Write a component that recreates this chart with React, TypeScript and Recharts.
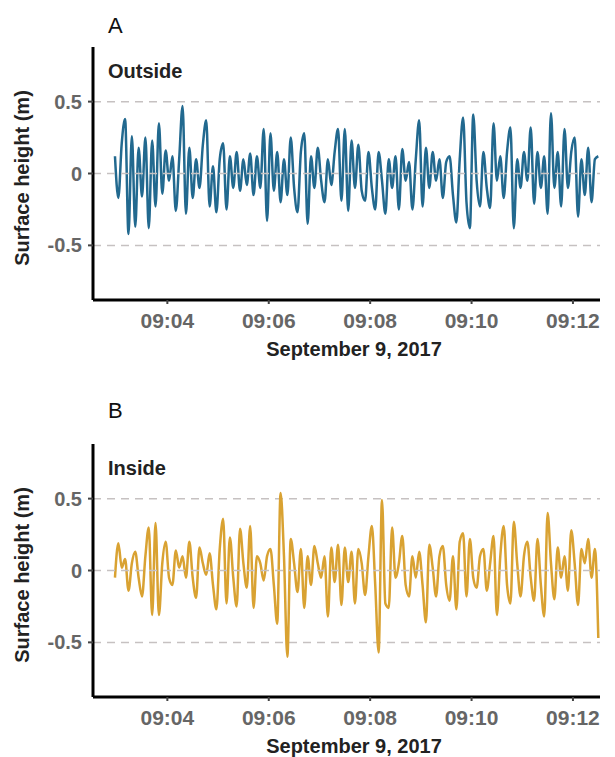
import React from 'react'
import { Line, LineChart, ReferenceLine, XAxis, YAxis } from 'recharts'

// Two stacked surface-height panels (outside / inside), 4 s samples
// starting 09:02:58, time in seconds after 09:00:00.

const startSec = 178
const stepSec = 4
const xTicks = [240, 360, 480, 600, 720]
const yTicks = [-0.5, 0, 0.5]

const outsideHeight = [
  0.12, -0.17, 0.21, 0.38, -0.42, 0.26, -0.37, 0.18, -0.16, 0.25,
  -0.38, 0.23, -0.23, 0.35, -0.14, 0.16, -0.05, 0.12, -0.26, 0.1,
  0.47, -0.28, 0.18, -0.17, 0.1, -0.1, 0.2, 0.37, -0.23, 0.05,
  -0.27, 0.1, 0.21, -0.25, 0.12, -0.1, 0.15, -0.12, 0.1, -0.08,
  0.14, -0.15, 0.12, -0.1, 0.31, -0.33, 0.28, -0.12, 0.15, -0.2,
  0.1, -0.15, 0.25, -0.1, -0.27, 0.15, 0.28, -0.35, 0.12, -0.1,
  0.18, -0.05, -0.2, 0.1, -0.08, 0.15, 0.31, -0.19, 0.31, -0.26,
  0.23, -0.1, 0.2, -0.12, -0.19, 0.15, -0.1, -0.25, 0.15, -0.05,
  -0.28, 0.1, -0.1, 0.12, -0.25, 0.17, -0.05, 0.08, -0.25, 0.1,
  0.37, -0.23, 0.18, -0.1, 0.15, -0.05, 0.1, -0.17, 0.08, 0.12,
  -0.15, -0.34, 0.1, 0.39, -0.2, -0.38, 0.41, -0.05, -0.23, 0.15,
  -0.1, -0.24, 0.35, -0.05, 0.12, -0.17, 0.15, 0.32, -0.38, 0.1,
  -0.1, 0.15, -0.05, 0.32, -0.21, 0.15, -0.1, 0.12, -0.28, 0.42,
  -0.1, 0.15, -0.23, 0.31, -0.1, 0.15, 0.25, -0.3, 0.1, -0.15,
  0.18, -0.2, 0.1, 0.12,
]

const insideHeight = [
  -0.05, 0.19, 0.02, 0.08, -0.14, 0.05, 0.13, -0.05, -0.18, 0.1,
  0.3, -0.31, 0.33, -0.31, 0.05, 0.2, -0.05, -0.1, 0.14, 0.02,
  0.1, -0.05, 0.2, -0.05, -0.19, 0.16, 0.05, -0.03, 0.12, -0.1,
  -0.27, 0.15, 0.36, -0.23, 0.23, -0.05, -0.25, 0.29, 0.05, -0.12,
  0.31, -0.26, 0.1, 0.05, -0.07, 0.1, 0.15, -0.1, -0.37, 0.54,
  0.1, -0.6, 0.22, 0.05, -0.15, 0.15, -0.26, 0.1, -0.1, 0.17,
  0.05, -0.05, 0.1, -0.32, 0.16, -0.08, 0.18, -0.24, 0.16, -0.08,
  0.13, -0.23, 0.15, 0.05, -0.17, 0.1, 0.31, -0.1, -0.57, 0.49,
  -0.23, -0.26, 0.3, -0.05, 0.05, 0.24, -0.1, -0.18, 0.1, -0.05,
  0.13, -0.1, -0.36, 0.18, 0.02, -0.18, 0.1, 0.17, -0.1, -0.21,
  0.1, -0.27, 0.2, 0.26, -0.18, 0.22, -0.05, -0.12, 0.1, 0.15,
  -0.14, 0.05, 0.24, -0.31, 0.1, 0.31, -0.1, -0.23, 0.34, 0.05,
  -0.18, 0.1, 0.2, -0.05, -0.21, 0.22, -0.1, -0.32, 0.4, 0.05,
  -0.2, 0.16, -0.05, 0.1, -0.14, 0.28, 0.05, -0.24, 0.15, 0.05,
  0.22, -0.05, 0.15, -0.47,
]

const font = '"Liberation Sans", Arial, Helvetica, sans-serif'
const gridColor = '#c6c1c1'

const fmtTime = (s: number) => `09:${String(Math.floor(s / 60)).padStart(2, '0')}`

function Panel({
  top,
  letter,
  letterTop,
  label,
  values,
  color,
}: {
  top: number
  letter: string
  letterTop: number
  label: string
  values: number[]
  color: string
}) {
  const data = values.map((v, i) => ({ t: startSec + i * stepSec, v }))
  return (
    <div style={{ position: 'absolute', left: 0, top, width: 615, height: 380 }}>
      <LineChart
        width={615}
        height={380}
        data={data}
        margin={{ top: 47, right: 15, bottom: 40, left: 0 }}
      >
        <XAxis
          dataKey="t"
          type="number"
          domain={[152, 752]}
          ticks={xTicks}
          tickFormatter={fmtTime}
          allowDataOverflow
          height={40}
          axisLine={{ stroke: '#000', strokeWidth: 3 }}
          tickLine={{ stroke: '#444', strokeWidth: 2 }}
          tickSize={4}
          tickMargin={9}
          tick={{ fill: '#666', fontSize: 21, fontWeight: 700, fontFamily: font }}
        />
        <YAxis
          type="number"
          domain={[-0.88, 0.88]}
          ticks={yTicks}
          allowDataOverflow
          width={93}
          tickFormatter={(v: number) => String(v)}
          axisLine={{ stroke: '#000', strokeWidth: 3 }}
          tickLine={{ stroke: '#444', strokeWidth: 2 }}
          tickSize={5}
          tickMargin={6}
          tick={{ fill: '#666', fontSize: 20, fontWeight: 700, fontFamily: font }}
        />
        <ReferenceLine y={0.5} stroke={gridColor} strokeWidth={1.5} strokeDasharray="8 6" />
        <ReferenceLine y={-0.5} stroke={gridColor} strokeWidth={1.5} strokeDasharray="8 6" />
        <Line
          dataKey="v"
          type="monotone"
          stroke={color}
          strokeWidth={2.5}
          dot={false}
          isAnimationActive={false}
        />
        <ReferenceLine y={0} stroke={gridColor} strokeWidth={1.5} strokeDasharray="8 6" />
      </LineChart>
      <div
        style={{
          position: 'absolute', left: 108, top: letterTop, fontFamily: font,
          fontSize: 22, lineHeight: '22px', color: '#111',
        }}
      >
        {letter}
      </div>
      <div
        style={{
          position: 'absolute', left: 108, top: 61, fontFamily: font,
          fontSize: 20, lineHeight: '20px', fontWeight: 700, color: '#222',
        }}
      >
        {label}
      </div>
      <div
        style={{
          position: 'absolute', left: 22, top: 178, fontFamily: font,
          fontSize: 20, lineHeight: '20px', fontWeight: 700, color: '#222',
          transform: 'translate(-50%, -50%) rotate(-90deg)', whiteSpace: 'nowrap',
        }}
      >
        Surface height (m)
      </div>
      <div
        style={{
          position: 'absolute', left: 354, top: 339, fontFamily: font,
          fontSize: 20, lineHeight: '20px', fontWeight: 700, color: '#222',
          transform: 'translateX(-50%)', whiteSpace: 'nowrap',
        }}
      >
        September 9, 2017
      </div>
    </div>
  )
}

export default function App() {
  return (
    <div style={{ position: 'absolute', left: 0, top: 0, width: 615, height: 757, background: '#fff' }}>
      <Panel top={0} letter="A" letterTop={15} label="Outside" values={outsideHeight} color="#22698f" />
      <Panel top={397} letter="B" letterTop={3} label="Inside" values={insideHeight} color="#d9a232" />
    </div>
  )
}
